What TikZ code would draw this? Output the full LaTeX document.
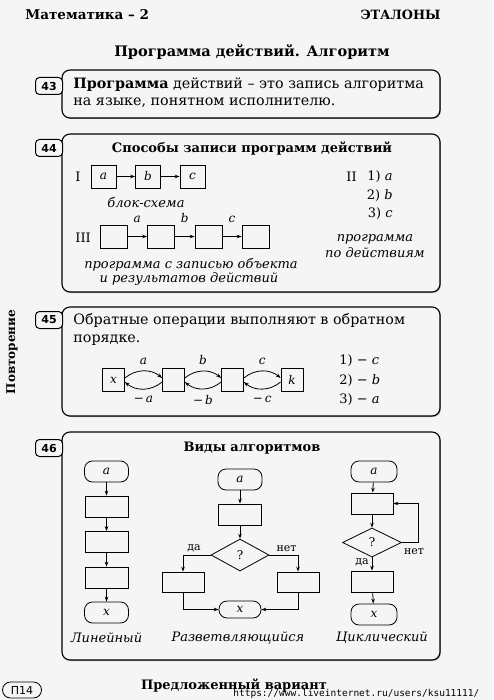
\documentclass[tikz,border=0pt]{standalone}
\usepackage{fontspec}
\setmainfont{DejaVu Serif}
\setsansfont{DejaVu Sans}
\setmonofont{DejaVu Sans Mono}
\usepackage{xcolor}
\usetikzlibrary{arrows.meta,positioning,shapes.geometric,shadows}

\definecolor{paper}{gray}{0.96}
\newcommand\txtfont{\fontsize{14.3}{17}\selectfont}
\newcommand\capfont{\fontsize{13}{16}\selectfont}
\newcommand\lblfont{\fontsize{12}{14}\selectfont}

\tikzset{
  frame/.style={draw, line width=1.1pt, rounded corners=8pt, fill=paper,
    minimum width=378pt, inner sep=0pt,
    drop shadow={shadow xshift=.9pt, shadow yshift=-1pt, opacity=.7}},
  tab/.style={draw, line width=1pt, rounded corners=4pt, fill=paper,
    minimum width=27pt, minimum height=17pt, inner sep=0pt, anchor=east,
    font=\sffamily\bfseries\fontsize{11}{11}\selectfont},
  blk/.style={draw, line width=.8pt, inner sep=0pt, minimum width=43pt, minimum height=21pt},
  sq/.style={draw, line width=.8pt, inner sep=0pt, minimum width=25pt, minimum height=23pt, font=\lblfont},
  term/.style={draw, line width=.8pt, inner sep=0pt, rounded corners=8pt,
    minimum width=44pt, minimum height=21pt, font=\lblfont},
  cond/.style={draw, diamond, line width=.8pt, inner sep=0pt,
    minimum width=58pt, minimum height=32pt, font=\lblfont},
  txt/.style={anchor=west, inner sep=0pt, font=\txtfont},
  capt/.style={inner sep=0pt, font=\capfont\itshape},
  head/.style={inner sep=0pt, font=\bfseries\fontsize{13}{15}\selectfont},
  yn/.style={inner sep=0pt, font=\fontsize{11}{12}\selectfont},
}

\begin{document}
\begin{tikzpicture}[x=1pt, y=-1pt, >={Stealth[length=5pt,width=3.6pt]}, line width=.8pt]
    \fill[paper] (0,0) rectangle (493,700);
    \useasboundingbox (0,0) rectangle (493,700);

    \node[head, anchor=west, font=\bfseries\fontsize{13.5}{15}\selectfont] (subj) at (25,15) {Математика – 2};
    \node[head, anchor=east, font=\bfseries\fontsize{12.8}{15}\selectfont] (etal) at (441,15) {ЭТАЛОНЫ};
    \node[head, font=\bfseries\fontsize{14.5}{17}\selectfont] (title) at (252,52) {Программа действий. Алгоритм};
    \node[head, rotate=90, font=\bfseries\fontsize{12}{13}\selectfont] (side) at (12,352) {Повторение};

    \node[frame, minimum height=48pt] (f43) at (251,94) {};
    \node[tab] (t43) at (63,86) {43};
    \node[txt] (d43a) at (73,85) {\textbf{Программа} действий – это запись алгоритма};
    \node[txt] (d43b) at (73,103) {на языке, понятном исполнителю.};

    \node[frame, minimum height=158pt] (f44) at (251,213) {};
    \node[tab] (t44) at (63,148) {44};
    \node[head] (h44) at (252,149) {Способы записи программ действий};

    \node[txt, font=\capfont] (r1) at (75,177) {I};
    \node[sq] (b1) at (103.5,176.5) {\textit{a}};
    \node[sq] (b2) at (148,176.5) {\textit{b}};
    \node[sq] (b3) at (192.5,176.5) {\textit{c}};
    \draw[->] (b1) -- (b2);
    \draw[->] (b2) -- (b3);
    \node[capt] (bs) at (146,202) {блок-схема};

    \node[txt, font=\capfont] (r3) at (75,238) {III};
    \node[sq, minimum width=27pt] (c1) at (113.5,236.5) {};
    \node[sq, minimum width=27pt] (c2) at (161,236.5) {};
    \node[sq, minimum width=27pt] (c3) at (208.5,236.5) {};
    \node[sq, minimum width=27pt] (c4) at (255.5,236.5) {};
    \draw[->] (c1) -- node[above=10pt, font=\lblfont] {\textit{a}} (c2);
    \draw[->] (c2) -- node[above=10pt, font=\lblfont] {\textit{b}} (c3);
    \draw[->] (c3) -- node[above=10pt, font=\lblfont] {\textit{c}} (c4);
    \node[capt] (p3a) at (191,265) {программа с записью объекта};
    \node[capt] (p3b) at (189,279) {и результатов действий};

    \node[txt, font=\capfont] (r2) at (346,177) {II};
    \node[txt, anchor=east, font=\capfont] (s1) at (393,177) {1) \textit{a}};
    \node[txt, anchor=east, font=\capfont] (s2) at (393,196) {2) \textit{b}};
    \node[txt, anchor=east, font=\capfont] (s3) at (393,214) {3) \textit{c}};
    \node[capt] (p2a) at (375,239) {программа};
    \node[capt] (p2b) at (375,253) {по действиям};

    \node[frame, minimum height=109pt] (f45) at (251,361.5) {};
    \node[tab] (t45) at (63,320) {45};
    \node[txt] (d45a) at (73,320) {Обратные операции выполняют в обратном};
    \node[txt] (d45b) at (73,340) {порядке.};

    \node[sq, minimum width=22pt] (ex) at (113.5,380) {\textit{x}};
    \node[sq, minimum width=22pt] (e2) at (173.5,380) {};
    \node[sq, minimum width=22pt] (e3) at (232.5,380) {};
    \node[sq, minimum width=22pt] (ek) at (292,380) {\textit{k}};
    \draw[->] ([yshift=2pt]ex.east) to[bend left=40] node[above=3pt, font=\lblfont] {\textit{a}} ([yshift=2pt]e2.west);
    \draw[->] ([yshift=-2pt]e2.west) to[bend left=40] node[below=3pt, font=\lblfont] {−\,\textit{a}} ([yshift=-2pt]ex.east);
    \draw[->] ([yshift=2pt]e2.east) to[bend left=40] node[above=3pt, font=\lblfont] {\textit{b}} ([yshift=2pt]e3.west);
    \draw[->] ([yshift=-2pt]e3.west) to[bend left=40] node[below=3pt, font=\lblfont] {−\,\textit{b}} ([yshift=-2pt]e2.east);
    \draw[->] ([yshift=2pt]e3.east) to[bend left=40] node[above=3pt, font=\lblfont] {\textit{c}} ([yshift=2pt]ek.west);
    \draw[->] ([yshift=-2pt]ek.west) to[bend left=40] node[below=3pt, font=\lblfont] {−\,\textit{c}} ([yshift=-2pt]e3.east);

    \node[txt, font=\capfont] (o1) at (339,361) {1) − \textit{c}};
    \node[txt, font=\capfont] (o2) at (339,381) {2) − \textit{b}};
    \node[txt, font=\capfont] (o3) at (339,400) {3) − \textit{a}};

    \node[frame, minimum height=228pt] (f46) at (251,546) {};
    \node[tab] (t46) at (63,448) {46};
    \node[head] (h46) at (252,448) {Виды алгоритмов};

    \node[term] (la) at (106.5,471.5) {\textit{a}};
    \node[blk] (l1) at (106.5,506.5) {};
    \node[blk] (l2) at (106.5,542) {};
    \node[blk] (l3) at (106.5,577.5) {};
    \node[term] (lx) at (106.5,612.5) {\textit{x}};
    \draw[->] (la) -- (l1);
    \draw[->] (l1) -- (l2);
    \draw[->] (l2) -- (l3);
    \draw[->] (l3) -- (lx);
    \node[capt] (lin) at (106.5,638) {Линейный};

    \node[term] (ba) at (240,479.5) {\textit{a}};
    \node[blk] (bb) at (240,514.5) {};
    \node[cond] (bq) at (240,555) {?};
    \node[blk, minimum width=42pt, minimum height=20pt] (bl) at (183,582) {};
    \node[blk, minimum width=42pt, minimum height=20pt] (br) at (298,582) {};
    \node[term, minimum width=42pt, minimum height=17pt] (bx) at (240,609.5) {\textit{x}};
    \draw[->] (ba) -- (bb);
    \draw[->] (bb) -- (bq);
    \draw[->] (bq.west) -| node[yn, pos=.3, above=3pt] {да} (bl.north);
    \draw[->] (bq.east) -| node[yn, pos=.3, above=3pt] {нет} (br.north);
    \draw[->] (bl.south) |- (bx.west);
    \draw[->] (br.south) |- (bx.east);
    \node[capt] (raz) at (238,638) {Разветвляющийся};

    \node[term, minimum width=46pt] (ca) at (374,471.5) {\textit{a}};
    \node[blk, minimum width=42pt] (cb) at (372,503.5) {};
    \node[cond, minimum width=59pt, minimum height=29pt] (cq) at (372,542.5) {?};
    \node[blk, minimum width=42pt] (cc) at (372,581.5) {};
    \node[term, minimum width=46pt] (cx) at (374,614.5) {\textit{x}};
    \draw[->] (ca) -- (cb);
    \draw[->] (cb) -- (cq);
    \draw[->] (cq.east) -- ++(16,0) |- (cb.east);
    \draw[->] (cq) -- node[yn, left=3pt, pos=.35] {да} (cc);
    \draw[->] (cc) -- (cx);
    \node[yn] (cno) at (414,552) {нет};
    \node[capt] (cyc) at (382,638) {Циклический};

    \node[draw, line width=.8pt, rounded corners=8pt, minimum width=39pt, minimum height=16pt,
      inner sep=0pt, font=\sffamily\fontsize{11}{11}\selectfont] (page) at (22,690) {П14};
    \node[head] (foot) at (234,686) {Предложенный вариант};
    \node[txt, font=\ttfamily\fontsize{9.5}{10}\selectfont] (url) at (233,694) {https://www.liveinternet.ru/users/ksu11111/};
\end{tikzpicture}
\end{document}
